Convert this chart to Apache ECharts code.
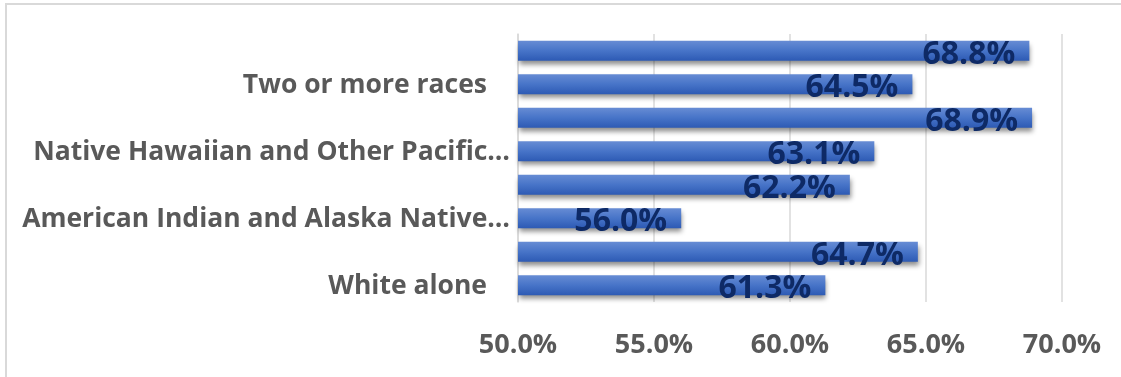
<!DOCTYPE html>
<html>
<head>
<meta charset="utf-8">
<script src="https://cdn.jsdelivr.net/npm/echarts@6/dist/echarts.min.js"></script>
<style>
  html, body { margin: 0; padding: 0; background: #ffffff; }
  #chart { width: 1121px; height: 377px; }
</style>
</head>
<body>
<div id="chart"></div>
<script>
// Categories listed bottom to top
const categories = [
  'White alone',
  'Black or African American alone',
  'American Indian and Alaska Native alone',
  'Asian alone',
  'Native Hawaiian and Other Pacific Islander alone',
  'Some other race alone',
  'Two or more races',
  'Hispanic or Latino'
];
// Text shown on the category axis (every other category is labelled)
const categoryLabels = [
  'White alone',
  'Black or African American alone',
  'American Indian and Alaska Native…',
  'Asian alone',
  'Native Hawaiian and Other Pacific…',
  'Some other race alone',
  'Two or more races',
  'Hispanic or Latino'
];
// Percent values
const values = [61.3, 64.7, 56.0, 62.2, 63.1, 68.9, 64.5, 68.8];
const xTicks = { min: 50, max: 70, step: 5 };

const chart = echarts.init(document.getElementById('chart'), null, { renderer: 'canvas' });

const barGradient = new echarts.graphic.LinearGradient(0, 0, 0, 1, [
  { offset: 0, color: '#678cd4' },
  { offset: 0.5, color: '#4774c8' },
  { offset: 1, color: '#2d5ab4' }
]);

chart.setOption({
  animation: false,
  backgroundColor: '#ffffff',
  graphic: [{
    type: 'rect',
    shape: { x: 6, y: 4, width: 1200, height: 500 },
    style: { fill: 'none', stroke: '#d9d9d9', lineWidth: 2 },
    silent: true,
    z: -1
  }],
  grid: { left: 518, right: 59, top: 34, bottom: 75, containLabel: false },
  xAxis: {
    type: 'value',
    min: xTicks.min,
    max: xTicks.max,
    interval: xTicks.step,
    axisLine: { show: false },
    axisTick: { show: false },
    splitLine: { show: true, lineStyle: { color: '#d9d9d9', width: 1.5 } },
    axisLabel: {
      margin: 30,
      color: '#595959',
      fontFamily: 'Open Sans',
      fontWeight: 'bold',
      fontSize: 27,
      formatter: v => v.toFixed(1) + '%'
    }
  },
  yAxis: {
    type: 'category',
    data: categories,
    axisLine: { show: true, lineStyle: { color: '#d9d9d9', width: 1.5 } },
    axisTick: { show: false },
    axisLabel: {
      interval: 1,
      margin: 8,
      color: '#595959',
      fontFamily: 'Open Sans',
      fontWeight: 'bold',
      fontSize: 26.5,
      formatter: (name, idx) => {
        const text = categoryLabels[idx];
        return text.endsWith('…') ? '{t|' + text + '}' : '{t|' + text + '}{s|}';
      },
      rich: {
        t: { color: '#595959', fontFamily: 'Open Sans', fontWeight: 'bold', fontSize: 26.5, padding: [3, 0, 0, 0] },
        s: { width: 23 }
      }
    }
  },
  series: [{
    type: 'bar',
    data: values,
    barWidth: 20,
    itemStyle: {
      color: barGradient,
      shadowColor: 'rgba(0,0,0,0.45)',
      shadowBlur: 5,
      shadowOffsetY: 4,
      shadowOffsetX: 1
    },
    label: {
      show: true,
      position: 'insideRight',
      distance: 14,
      offset: [0, 4],
      color: '#0e2a66',
      fontFamily: 'Open Sans',
      fontWeight: 'bold',
      fontSize: 32,
      formatter: p => p.value.toFixed(1) + '%'
    }
  }]
});
</script>
</body>
</html>
